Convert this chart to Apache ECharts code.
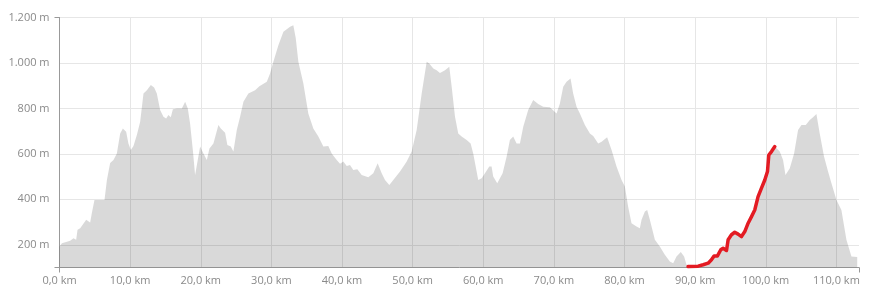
<!DOCTYPE html>
<html><head><meta charset="utf-8">
<script src="https://cdn.jsdelivr.net/npm/echarts@6/dist/echarts.min.js"></script>
<style>html,body{margin:0;padding:0;background:#fff}#c{width:875px;height:301px}</style>
</head><body><div id="c"></div>
<script>
// Distance along route (km)
const distanceKm = [0.0,0.34,1.51,1.98,2.36,2.55,2.93,3.17,3.78,3.96,4.34,4.58,4.95,6.37,6.71,7.17,7.64,8.12,8.59,8.97,9.44,9.76,10.10,10.47,10.95,11.42,11.89,12.37,12.93,13.40,13.78,14.25,14.72,15.10,15.42,15.76,16.05,16.61,17.32,17.79,18.17,18.49,18.88,19.20,19.44,19.91,20.38,20.86,21.23,21.79,22.50,22.84,23.45,23.77,24.25,24.62,25.10,25.57,26.04,26.74,27.69,28.30,29.35,29.81,30.28,30.99,31.70,32.64,33.11,33.45,33.82,34.53,35.23,35.94,36.65,37.36,38.06,38.54,39.25,39.72,40.19,40.67,41.13,41.60,42.17,42.79,43.72,44.43,45.05,45.62,46.09,46.70,47.26,48.21,49.16,49.86,50.57,51.28,51.99,52.36,52.93,53.40,53.87,54.58,55.19,55.53,56.00,56.46,56.94,57.65,58.21,58.58,59.29,59.77,60.24,60.85,61.18,61.41,61.98,62.74,63.31,63.77,64.24,64.72,65.19,65.66,66.36,67.07,67.78,68.49,69.43,70.38,70.85,71.32,71.79,72.36,72.73,73.21,73.68,74.39,75.10,75.57,76.27,76.75,77.54,78.17,78.87,79.58,80.05,80.51,80.99,81.70,82.17,82.41,82.88,83.21,83.59,84.30,85.00,85.71,86.42,86.89,87.36,87.97,88.44,88.78,89.00,90.42,91.13,91.84,92.31,92.68,93.16,93.63,93.96,94.44,94.67,95.14,95.61,96.08,96.56,97.03,97.50,97.98,98.44,98.91,99.39,99.86,100.24,100.43,100.81,101.28,101.98,102.45,102.79,103.40,104.01,104.57,105.05,105.66,106.23,106.69,107.17,107.64,108.25,108.82,109.30,110.01,110.71,111.42,112.13,112.95];
// Elevation (m)
const elevationM = [192,207,218,229,222,266,273,266,310,317,298,340,397,397,485,560,573,602,690,712,697,646,617,635,683,741,866,880,903,892,866,793,763,756,771,761,796,800,800,829,800,734,617,507,507,632,602,573,624,646,727,712,693,639,632,610,705,763,829,866,880,898,917,954,1005,1078,1137,1159,1166,1110,1005,910,778,712,676,632,635,602,573,556,566,547,551,529,532,507,497,515,559,515,485,463,485,522,566,610,705,866,1005,998,976,968,956,968,983,895,763,690,676,661,646,602,485,493,515,544,544,500,471,515,588,661,676,646,646,719,793,837,819,807,805,778,822,895,917,932,866,807,778,727,690,679,646,653,673,617,544,485,456,368,295,280,273,310,346,353,310,222,192,156,126,119,148,168,148,112,104,106,112,119,134,151,151,178,185,175,222,244,255,247,236,258,295,324,353,412,449,485,522,595,610,632,610,573,507,537,602,705,727,727,749,761,775,690,588,522,471,397,353,222,148,146];
// Highlighted section (km)
const highlightFromKm = 89.0;
const highlightToKm = 101.28;
// Tick labels
const xTickKm = [0,10,20,30,40,50,60,70,80,90,100,110];
const yTickM = [200,400,600,800,1000,1200];
const xMax = 113.2, yMin = 100, yMax = 1200;

const profile = distanceKm.map((d,i)=>[d, elevationM[i]]);
const highlight = profile.filter(p => p[0] >= highlightFromKm && p[0] <= highlightToKm);

const fmtKm = v => v.toFixed(1).replace('.', ',') + ' km';
const fmtM = v => (v >= 1000 ? Math.floor(v/1000) + '.' + String(v%1000).padStart(3,'0') : String(v)) + ' m';
const labelStyle = {color:'#8a8a8a', fontFamily:'Open Sans', fontSize:11};

const chart = echarts.init(document.getElementById('c'), null, {renderer:'canvas'});
chart.setOption({
  animation:false,
  grid:{left:59.5, right:16, top:17.5, bottom:33.5, containLabel:false},
  xAxis:[{
    type:'value', min:0, max:xMax,
    axisLine:{show:true, lineStyle:{color:'#999999', width:1}},
    axisTick:{show:false, customValues:xTickKm},
    axisLabel:Object.assign({customValues:xTickKm, formatter:fmtKm, margin:8}, labelStyle),
    splitLine:{show:true, lineStyle:{color:'#e6e6e6', width:1}}
  },{
    type:'value', min:0, max:xMax, position:'bottom',
    axisLine:{show:false}, axisLabel:{show:false}, splitLine:{show:false},
    axisTick:{show:true, length:5, customValues:[0,xMax], lineStyle:{color:'#999999'}}
  }],
  yAxis:[{
    type:'value', min:yMin, max:yMax,
    axisLine:{show:true, lineStyle:{color:'#999999', width:1}},
    axisTick:{show:false, customValues:yTickM},
    axisLabel:Object.assign({customValues:yTickM, formatter:fmtM, margin:10}, labelStyle),
    splitLine:{show:true, lineStyle:{color:'#e6e6e6', width:1}}
  },{
    type:'value', min:yMin, max:yMax, position:'left',
    axisLine:{show:false}, axisLabel:{show:false}, splitLine:{show:false},
    axisTick:{show:true, length:5, customValues:[yMin,yMax], lineStyle:{color:'#999999'}}
  }],
  series:[{
    type:'line', data:profile, xAxisIndex:0, yAxisIndex:0,
    showSymbol:false, smooth:false,
    lineStyle:{width:0},
    areaStyle:{color:'#000000', opacity:0.15, origin:'start'},
    silent:true, z:2
  },{
    type:'line', data:highlight, xAxisIndex:0, yAxisIndex:0,
    showSymbol:false,
    lineStyle:{color:'#e31b23', width:3.5, cap:'round', join:'round'},
    silent:true, z:3
  }]
});
</script></body></html>
